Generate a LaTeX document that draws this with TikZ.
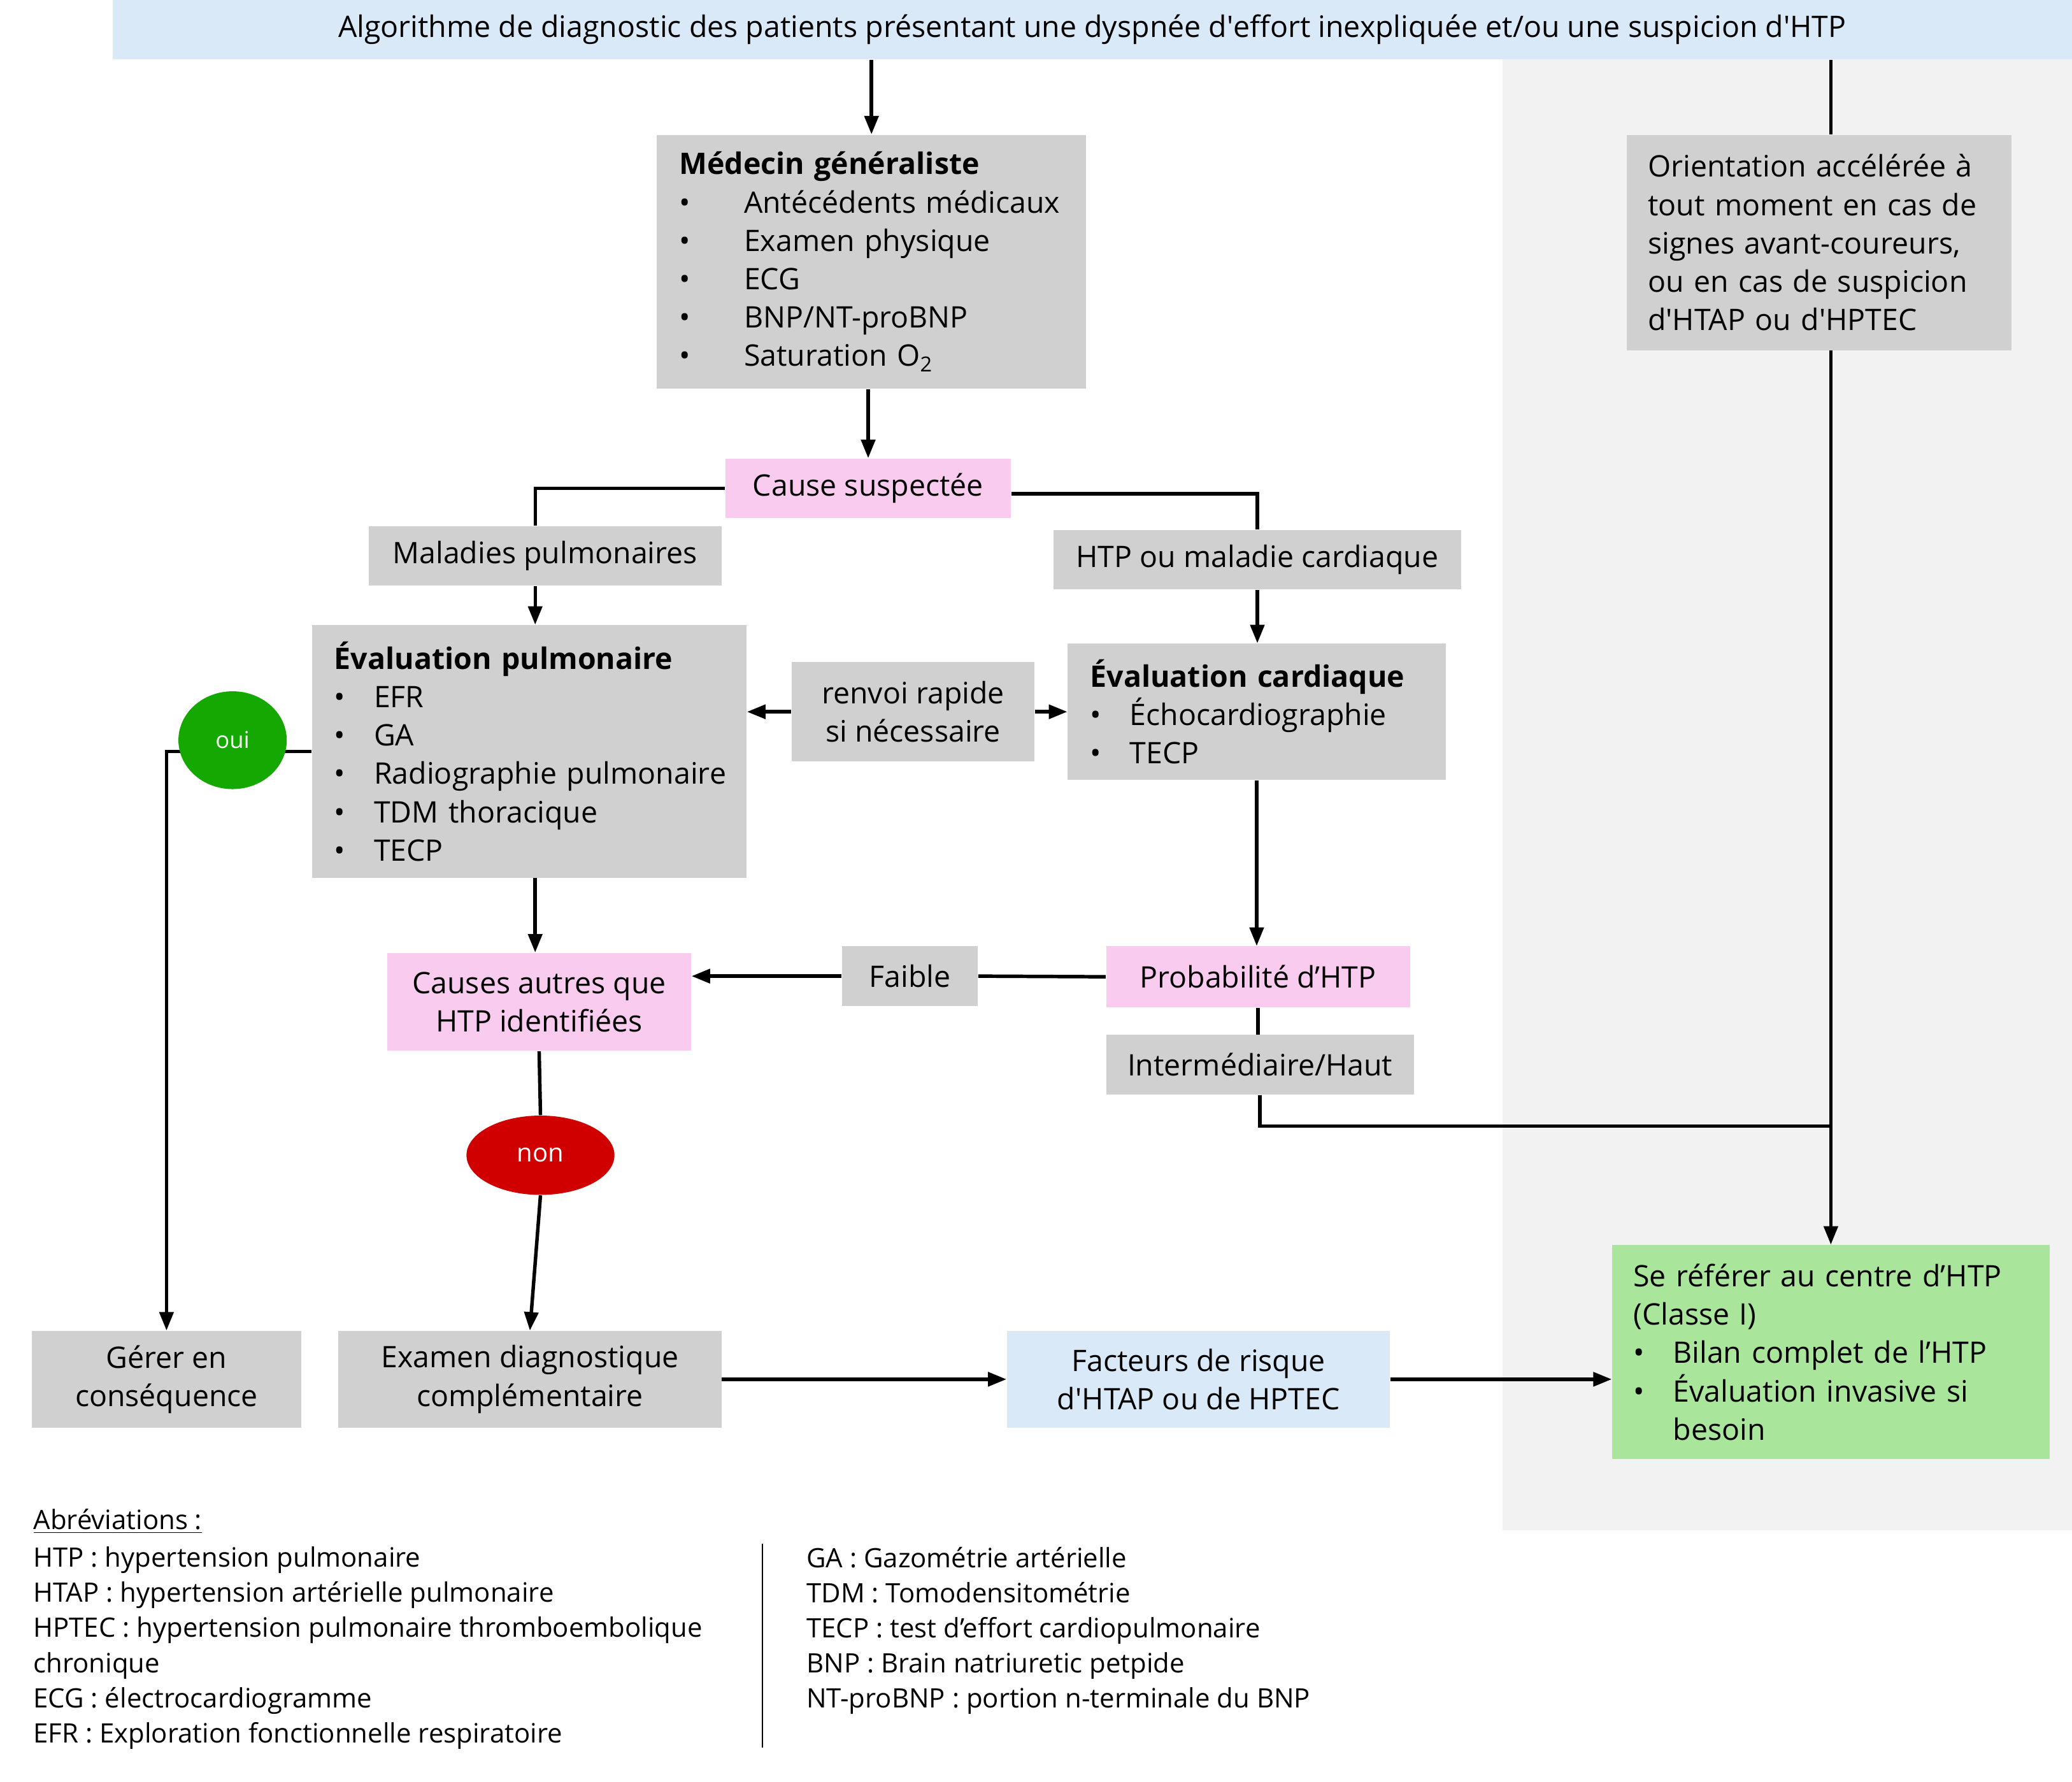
\documentclass[tikz,border=0pt]{standalone}
\usepackage{fontspec}
\setmainfont{Open Sans}
\usetikzlibrary{arrows.meta,shapes.geometric}

\definecolor{boxgray}{RGB}{208,208,208}
\definecolor{boxpink}{RGB}{249,204,239}
\definecolor{boxblue}{RGB}{218,233,248}
\definecolor{boxgreen}{RGB}{169,229,155}
\definecolor{panelgray}{RGB}{242,242,242}
\definecolor{ouigreen}{RGB}{20,168,0}
\definecolor{nonred}{RGB}{208,0,0}

\newcommand{\itm}[2][0.6cm]{\makebox[#1][l]{\textbullet}\mbox{#2}}

\begin{document}
\begin{tikzpicture}[x=0.02cm,y=-0.02cm,
        every node/.style={font=\fontsize{12.75}{16.5}\selectfont},
        box/.style={fill=boxgray, inner sep=0pt, align=center},
        listbox/.style={fill=boxgray, inner ysep=0pt, inner xsep=0.34cm, align=left},
        abbr/.style={anchor=north west, align=left, inner sep=0pt, font=\fontsize{11.5}{15.1}\selectfont},
        arr/.style={line width=1.5pt, -{Triangle[length=0.28cm,width=0.21cm]}},
        ln/.style={line width=1.5pt}]
        \useasboundingbox (0,0) rectangle (1568,1348);

        % right panel
        \fill[panelgray] (1137,45) rectangle (1568,1158);

        \node[box, fill=boxblue, minimum width=29.66cm, minimum height=0.9cm] (title) at (826.5,22.5)
            {Algorithme de diagnostic des patients présentant une dyspnée d\textquotesingle effort inexpliquée et/ou une suspicion d\textquotesingle HTP};

        \node[listbox, text width=5.82cm, minimum height=3.84cm] (med) at (659.5,198)
            {\textbf{Médecin généraliste}\\
             \itm[0.98cm]{Antécédents médicaux}\\
             \itm[0.98cm]{Examen physique}\\
             \itm[0.98cm]{ECG}\\
             \itm[0.98cm]{BNP/NT-proBNP}\\
             \itm[0.98cm]{Saturation O\textsubscript{2}}};

        \node[listbox, inner xsep=0.32cm, text width=5.18cm, minimum height=3.26cm] (orient) at (1376.5,183.5)
            {Orientation accélérée à\\ tout moment en cas de\\ signes avant-coureurs,\\ ou en cas de suspicion\\ d\textquotesingle HTAP ou d\textquotesingle HPTEC};

        \node[box, fill=boxpink, minimum width=4.32cm, minimum height=0.9cm] (cause) at (657,369.5) {Cause suspectée};
        \node[box, minimum width=5.34cm, minimum height=0.9cm] (malpulm) at (412.5,420.5) {Maladies pulmonaires};
        \node[box, minimum width=6.18cm, minimum height=0.9cm] (htpcard) at (951.5,423.5) {HTP ou maladie cardiaque};

        \node[listbox, text width=5.9cm, minimum height=3.82cm] (evpulm) at (400.5,568.5)
            {\textbf{Évaluation pulmonaire}\\
             \itm{EFR}\\
             \itm{GA}\\
             \itm{Radiographie pulmonaire}\\
             \itm{TDM thoracique}\\
             \itm{TECP}};

        \node[box, minimum width=3.68cm, minimum height=1.5cm] (renvoi) at (691,538.5) {renvoi rapide\\si nécessaire};

        \node[listbox, text width=5.04cm, minimum height=2.06cm] (evcard) at (951,538.5)
            {\textbf{Évaluation cardiaque}\\
             \itm{Échocardiographie}\\
             \itm{TECP}};

        \node[box, fill=boxpink, minimum width=4.6cm, minimum height=0.92cm] (proba) at (952,739) {Probabilité d’HTP};
        \node[box, minimum width=4.66cm, minimum height=0.9cm] (interm) at (953.5,805.5) {Intermédiaire/Haut};
        \node[box, minimum width=2.06cm, minimum height=0.9cm] (faible) at (688.5,738.5) {Faible};
        \node[box, fill=boxpink, minimum width=4.6cm, minimum height=1.48cm] (causes) at (408,758) {Causes autres que\\HTP identifiées};

        \node[ellipse, fill=nonred, text=white, inner sep=0pt, minimum width=2.24cm, minimum height=1.2cm,
            font=\fontsize{11}{13}\selectfont] (non) at (409,874) {non};

        \node[box, minimum width=4.08cm, minimum height=1.46cm] (gerer) at (126,1043.5) {Gérer en\\conséquence};
        \node[box, minimum width=5.8cm, minimum height=1.46cm] (examen) at (401,1043.5) {Examen diagnostique\\complémentaire};
        \node[box, fill=boxblue, minimum width=5.8cm, minimum height=1.46cm] (facteurs) at (907,1043.5) {Facteurs de risque\\d\textquotesingle HTAP ou de HPTEC};

        \node[listbox, fill=boxgreen, inner xsep=0.32cm, text width=5.98cm, minimum height=3.24cm] (refer) at (1385.5,1023)
            {Se référer au centre d’HTP\\
             (Classe I)\\
             \itm{Bilan complet de l’HTP}\\
             \itm{Évaluation invasive si}\\
             \hspace*{0.6cm}besoin};

        \coordinate (jn) at (1385.5,852);

        % connectors
        \draw[arr] (title.south -| med.north) -- (med.north);
        \draw[ln] (title.south -| refer.north) -- (orient.north -| refer.north);
        \draw[arr] (orient.south -| refer.north) -- (refer.north);
        \draw[arr] (med.south -| cause.north) -- (cause.north);
        \draw[ln] (cause.west) -| ([xshift=-0.15cm]malpulm.north);
        \draw[ln] ([yshift=-0.08cm]cause.east) -| (htpcard.north);
        \draw[arr] ([xshift=-0.15cm]malpulm.south) -- ([xshift=-0.15cm]malpulm.south |- evpulm.north);
        \draw[arr] (htpcard.south) -- (htpcard.south |- evcard.north);
        \draw[arr] (renvoi.west) -- (renvoi.west -| evpulm.east);
        \draw[arr] (renvoi.east) -- (renvoi.east -| evcard.west);
        \draw[arr] (evcard.south) -- (evcard.south |- proba.north);
        \draw[ln] (proba.south) -- (proba.south |- interm.north);
        \draw[ln] (interm.south) |- (jn);
        \draw[ln] (proba.west) -- (faible.east);
        \draw[arr] (faible.west) -- (faible.west -| causes.east);
        \draw[arr] ([xshift=0.09cm]evpulm.south) -- ([xshift=0.09cm]evpulm.south |- causes.north);
        \draw[ln] (causes.south) -- (non.north);
        \draw[arr] (non.south) -- (examen.north);
        \draw[arr] (evpulm.west) -| (gerer.north);
        \draw[arr] (examen.east) -- (facteurs.west);
        \draw[arr] (facteurs.east) -- (facteurs.east -| refer.west);

        \node[ellipse, fill=ouigreen, text=white, inner sep=0pt, minimum width=1.64cm, minimum height=1.48cm,
            font=\fontsize{10}{12}\selectfont] (oui) at (176,560) {oui};

        % abbreviations
        \node[anchor=west, inner sep=0pt, font=\fontsize{11.5}{15.1}\selectfont] (abbrtitle) at (25,1151) {\underline{Abréviations :}};
        \node[abbr] (abbrleft) at (25,1170)
            {HTP : hypertension pulmonaire\\
             HTAP : hypertension artérielle pulmonaire\\
             HPTEC : hypertension pulmonaire thromboembolique\\
             chronique\\
             ECG : électrocardiogramme\\
             EFR : Exploration fonctionnelle respiratoire};
        \node[abbr] (abbrright) at (610,1170)
            {GA : Gazométrie artérielle\\
             TDM : Tomodensitométrie\\
             TECP : test d’effort cardiopulmonaire\\
             BNP : Brain natriuretic petpide\\
             NT-proBNP : portion n-terminale du BNP};
        \coordinate (sepA) at (577,1168);
        \coordinate (sepB) at (577,1322);
        \draw[line width=0.6pt] (sepA) -- (sepB);
    \end{tikzpicture}
\end{document}
